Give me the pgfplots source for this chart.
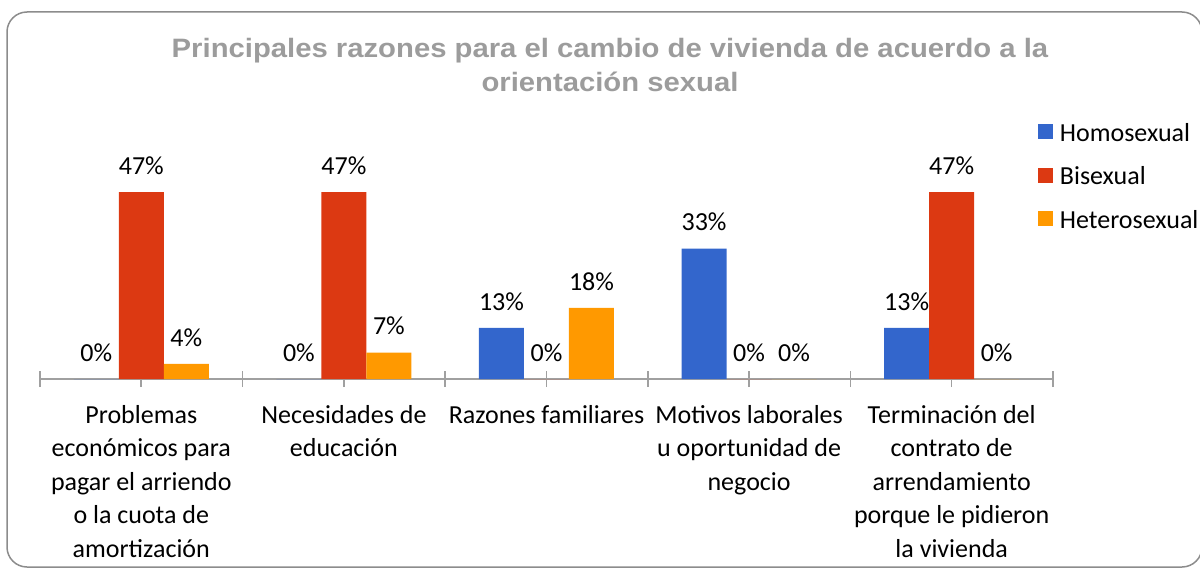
\documentclass[border=0pt]{standalone}
\usepackage{pgfplots}
\pgfplotsset{compat=1.18}
\usepackage{fontspec}
\setmainfont{Carlito}
\newfontfamily\titlefont{Liberation Sans}[FakeStretch=1.1]

\definecolor{homo}{HTML}{3366CC}
\definecolor{bi}{HTML}{DC3912}
\definecolor{hetero}{HTML}{FF9900}
\definecolor{framegray}{HTML}{8C8C8C}
\definecolor{axisgray}{HTML}{A0A0A0}
\definecolor{titlegray}{HTML}{9C9C9C}

\pgfplotsset{
    sqlegend/.style={legend image code/.code={\fill[##1] (0pt,-3.5pt) rectangle (7.5pt,4pt);}},
}

\begin{document}
\begin{tikzpicture}
\path[use as bounding box, clip] (0pt,0pt) rectangle (600pt,284.5pt);
\draw[framegray, line width=0.75pt, rounded corners=10pt] (3.5pt,1pt) rectangle (601pt,278.5pt);

\begin{axis}[
    at={(20pt,95pt)}, anchor=south west,
    scale only axis,
    width=506.5pt, height=100pt,
    xmin=-0.5, xmax=4.5,
    ymin=0, ymax=50,
    ybar=0pt,
    bar width=22.5pt,
    axis y line=none,
    axis x line*=bottom,
    x axis line style={axisgray, line width=0.8pt},
    xtick={0,1,2,3,4},
    minor xtick={-0.5,0.5,1.5,2.5,3.5,4.5},
    xticklabels={
        {Problemas\\económicos para\\pagar el arriendo\\o la cuota de\\amortización},
        {Necesidades de\\educación},
        {Razones familiares},
        {Motivos laborales\\u oportunidad de\\negocio},
        {Terminación del\\contrato de\\arrendamiento\\porque le pidieron\\la vivienda}
    },
    tick align=center,
    major tick length=8pt,
    minor tick length=8pt,
    tick style={axisgray, line width=0.8pt},
    x tick label style={font=\fontsize{13}{16.75}\selectfont, align=center, anchor=north, inner sep=0pt, yshift=-9pt},
    nodes near coords={\pgfmathprintnumber[fixed,precision=0,assume math mode=true]{\pgfplotspointmeta}\%},
    nodes near coords style={font=\fontsize{13}{15}\selectfont, inner sep=0pt, yshift=8.5pt, text=black},
    legend style={at={(0.9852,1.2975)}, anchor=north west, draw=none, fill=none, inner sep=0pt,
        font=\fontsize{13}{15}\selectfont, row sep=9.25pt,
        nodes={inner sep=1.75pt, text height=9pt, text depth=0pt},
        /tikz/every odd column/.append style={column sep=1.5pt}},
    legend cell align=left,
]
\addplot[fill=homo, draw=none, sqlegend] coordinates {(0,0) (1,0) (2,12.8) (3,32.6) (4,12.8)};
\addplot[fill=bi, draw=none, sqlegend] coordinates {(0,46.7) (1,46.7) (2,0) (3,0) (4,46.7)};
\addplot[fill=hetero, draw=none, sqlegend] coordinates {(0,3.8) (1,6.6) (2,17.8) (3,0) (4,0)};
\legend{Homosexual,Bisexual,Heterosexual}
\end{axis}

\node[font=\titlefont\bfseries\fontsize{13.3}{17}\selectfont, text=titlegray, align=center]
    at (305pt,251.8pt) {Principales razones para el cambio de vivienda de acuerdo a la\\orientación sexual};
\end{tikzpicture}
\end{document}
